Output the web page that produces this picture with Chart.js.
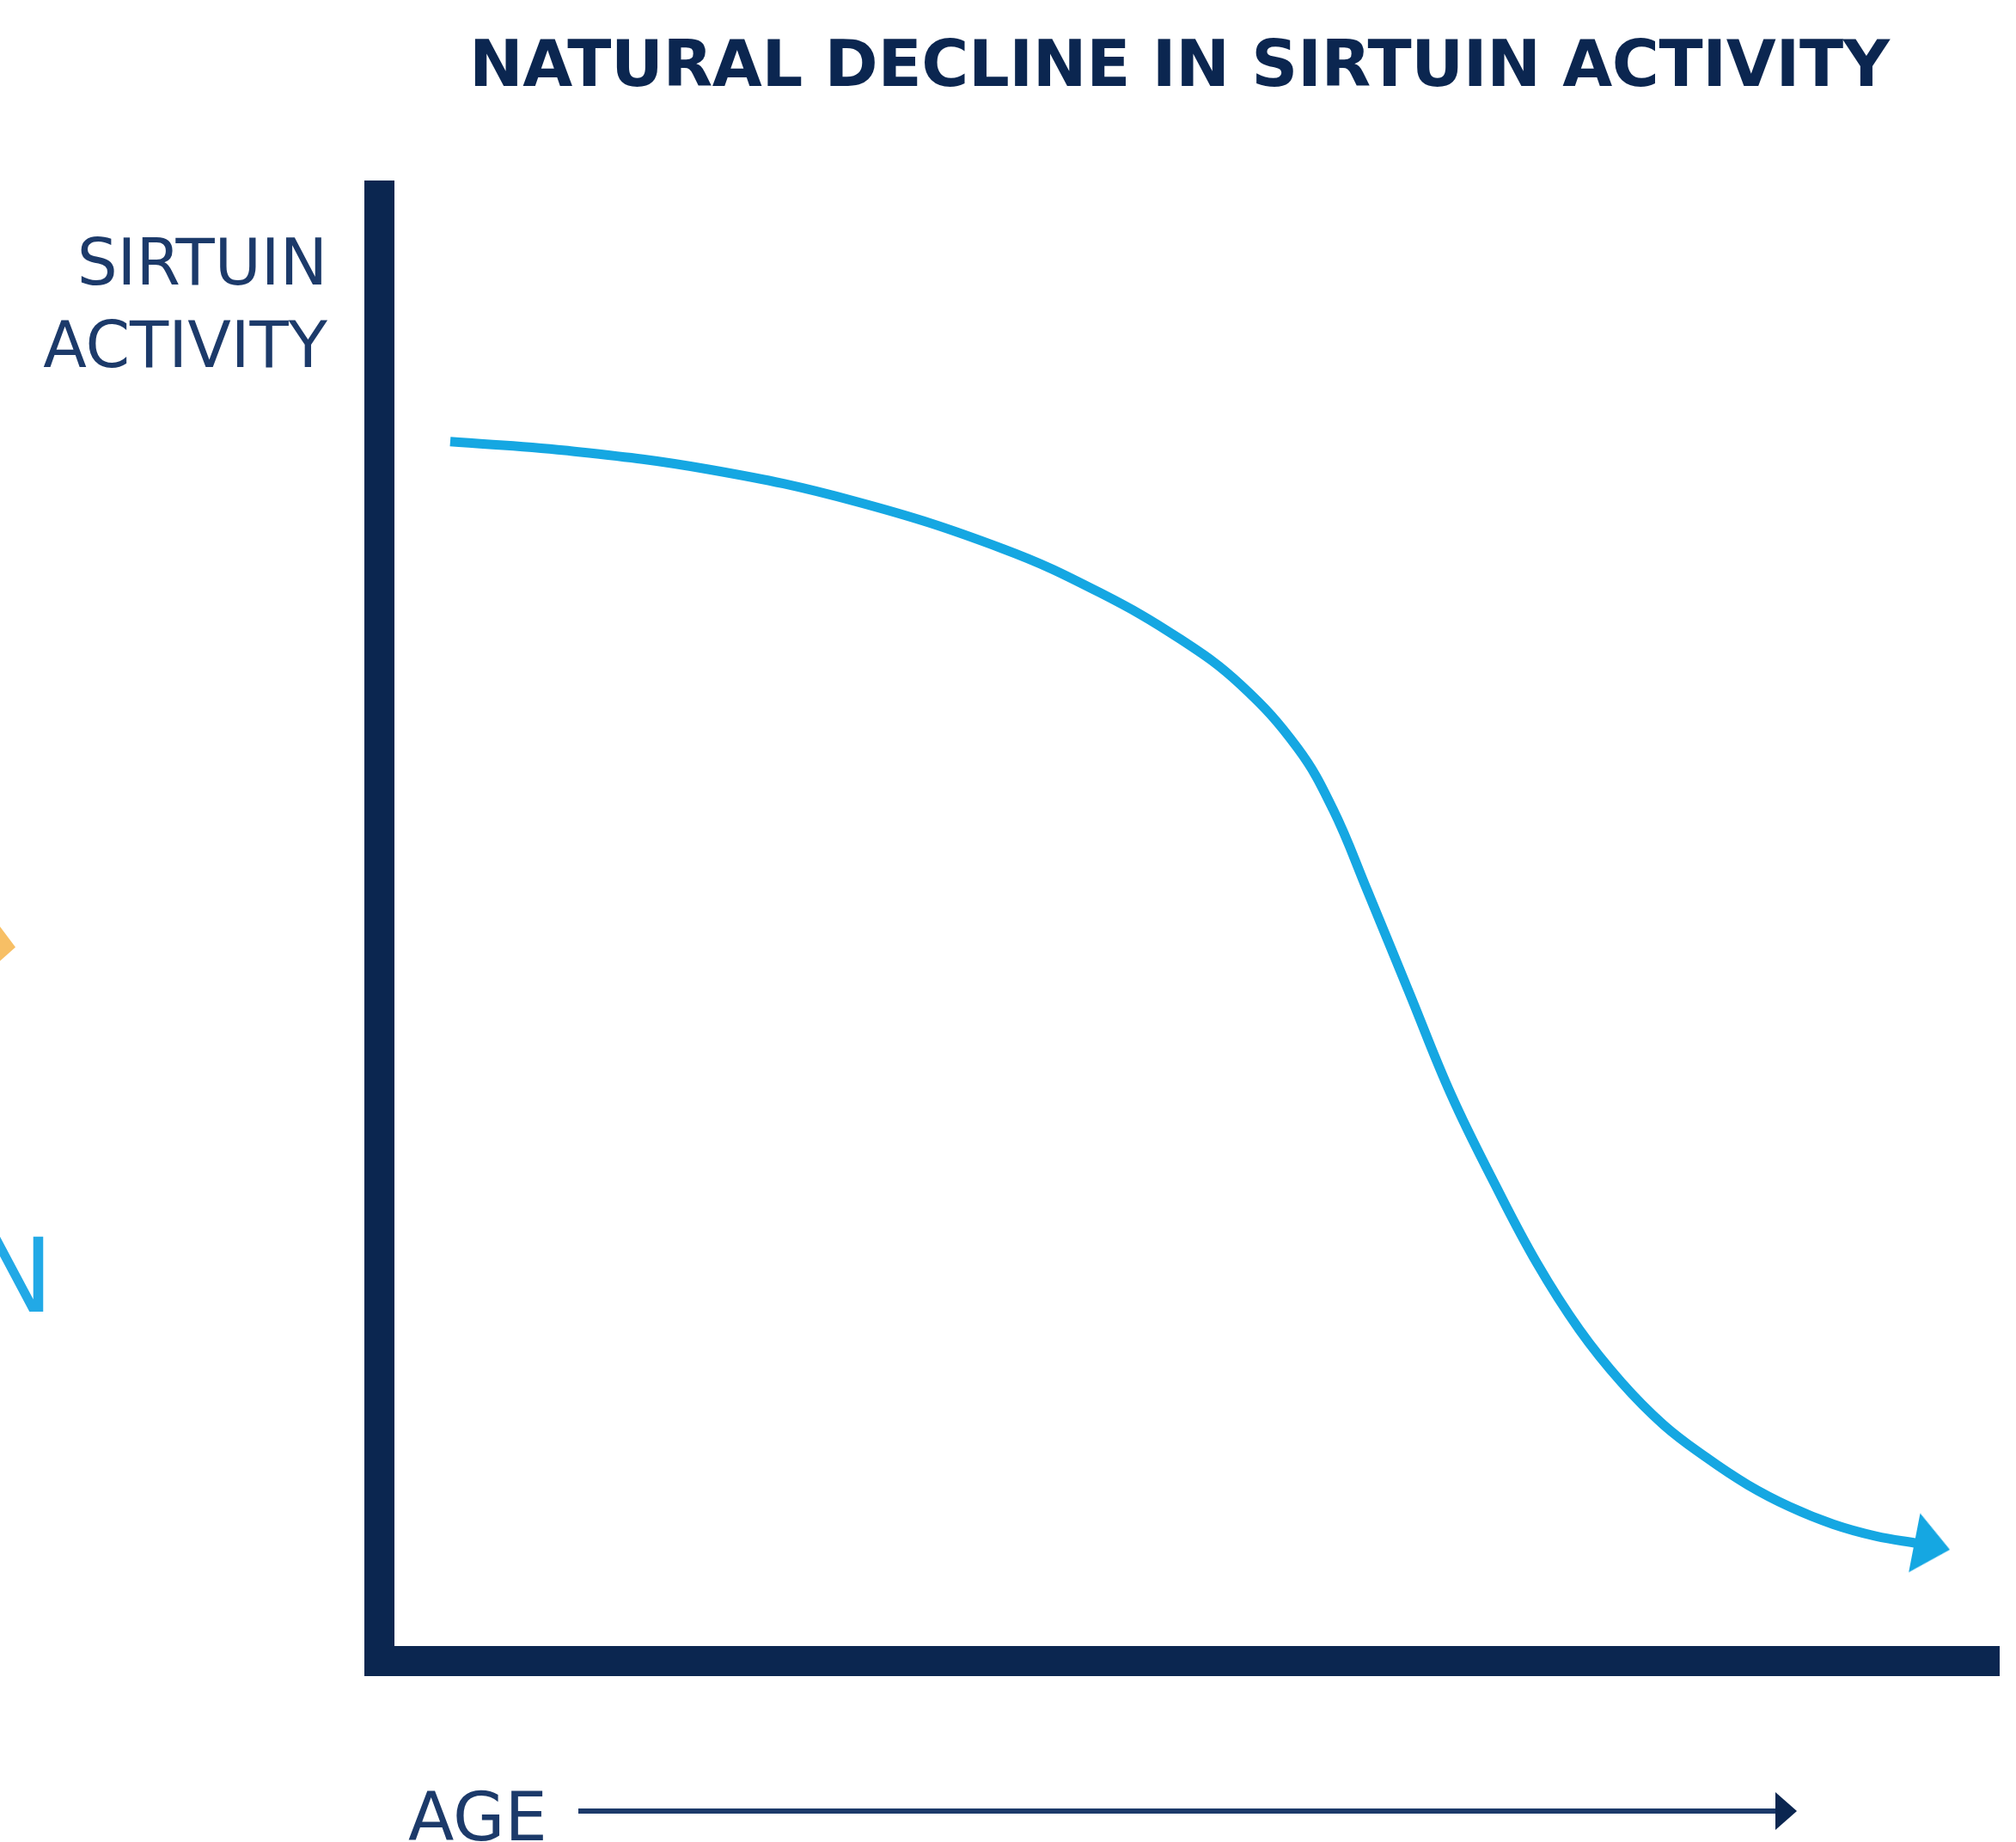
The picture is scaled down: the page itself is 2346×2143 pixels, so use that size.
<!DOCTYPE html>
<html>
<head>
<meta charset="utf-8">
<title>Natural decline in sirtuin activity</title>
<script src="https://cdn.jsdelivr.net/npm/chart.js@4.4.1/dist/chart.umd.min.js"></script>
<style>
  html, body { margin: 0; padding: 0; background: #fff; }
</style>
</head>
<body>
<canvas id="sirtuin-chart" width="2346" height="2143"></canvas>
<script>
// age, no units in the source graphic (0 = left axis, 100 = right edge)
const ageValues = [4.4, 11.5, 20.4, 29.5, 38.5, 44.5, 49.5, 53.2, 56.7, 58.9, 61.0, 63.6,
  66.2, 68.9, 71.5, 74.1, 76.7, 79.3, 81.9, 84.5, 87.1, 89.8, 92.4, 95.0]
// relative sirtuin activity
const activityValues = [83.2, 82.6, 81.3, 79.1, 75.9, 72.9, 69.7, 66.6, 62.3, 58.1, 52.6, 45.6,
  38.6, 32.5, 27.1, 22.6, 19.0, 16.1, 13.9, 12.0, 10.5, 9.3, 8.5, 8.0]

const chartTitle = 'NATURAL DECLINE IN SIRTUIN ACTIVITY'
const yAxisLines = ['SIRTUIN', 'ACTIVITY']
const xAxisLabel = 'AGE'

const NAVY = '#0b2650'
const TEXT_NAVY = '#1c3a6a'
const BLUE = '#15a7e2'

// arrow head for the end of the curve, used as the last point's style
function makeArrowHead(len, width) {
  const c = document.createElement('canvas')
  c.width = len * 2
  c.height = width
  const g = c.getContext('2d')
  g.fillStyle = BLUE
  g.beginPath()
  g.moveTo(len - 4, 0)
  g.lineTo(len * 2, width / 2)
  g.lineTo(len - 4, width)
  g.closePath()
  g.fill()
  return c
}
const arrowHead = makeArrowHead(38, 70)
const lastIndex = ageValues.length - 1

const points = ageValues.map((x, i) => ({ x: x, y: activityValues[i] }))

// texts and the little "age" arrow under the chart
const textPlugin = {
  id: 'sirtuinTexts',
  afterDraw(chart) {
    const ctx = chart.ctx
    ctx.save()

    ctx.fillStyle = NAVY
    ctx.font = 'bold 75px "DejaVu Sans"'
    ctx.textAlign = 'left'
    ctx.textBaseline = 'alphabetic'
    ctx.letterSpacing = '-0.4px'
    ctx.fillText(chartTitle, 546, 100)

    ctx.fillStyle = TEXT_NAVY
    ctx.font = '74px "DejaVu Sans"'
    ctx.letterSpacing = '0px'
    ctx.textAlign = 'right'
    ctx.fillText(yAxisLines[0], 381, 331)
    ctx.fillText(yAxisLines[1], 381, 427)

    ctx.textAlign = 'left'
    ctx.font = '78px "DejaVu Sans"'
    ctx.fillText(xAxisLabel, 475, 2141)

    ctx.strokeStyle = TEXT_NAVY
    ctx.lineWidth = 6
    ctx.beginPath()
    ctx.moveTo(673, 2107)
    ctx.lineTo(2072, 2107)
    ctx.stroke()
    ctx.fillStyle = NAVY
    ctx.beginPath()
    ctx.moveTo(2066, 2085)
    ctx.lineTo(2091, 2107)
    ctx.lineTo(2066, 2129)
    ctx.closePath()
    ctx.fill()

    // cut-off pieces of a neighbouring graphic at the left edge
    ctx.fillStyle = '#22a9e6'
    ctx.font = '120px "DejaVu Sans"'
    ctx.textAlign = 'right'
    ctx.fillText('N', 62, 1526)
    ctx.fillStyle = 'rgba(244, 170, 50, 0.75)'
    ctx.beginPath()
    ctx.moveTo(0, 1078)
    ctx.lineTo(18, 1102)
    ctx.lineTo(0, 1118)
    ctx.closePath()
    ctx.fill()

    ctx.restore()
  }
}

const config = {
  type: 'line',
  data: {
    datasets: [
      {
        label: 'Sirtuin activity',
        data: points,
        borderColor: BLUE,
        borderWidth: 11,
        tension: 0.4,
        pointStyle: (c) => (c.dataIndex === lastIndex ? arrowHead : 'circle'),
        pointRadius: (c) => (c.dataIndex === lastIndex ? 20 : 0),
        pointRotation: 11,
        pointBackgroundColor: BLUE,
        pointBorderWidth: 0,
      },
    ],
  },
  options: {
    responsive: false,
    animation: false,
    events: [],
    layout: {
      padding: { left: 433, right: 0, top: 227.5, bottom: 203 },
    },
    plugins: {
      legend: { display: false },
      title: { display: false },
      tooltip: { enabled: false },
    },
    scales: {
      x: {
        type: 'linear',
        min: 0,
        max: 100,
        grid: { display: false },
        ticks: { display: false },
        border: { display: true, color: NAVY, width: 35 },
      },
      y: {
        type: 'linear',
        min: 0,
        max: 100,
        grid: { display: false },
        ticks: { display: false },
        border: { display: true, color: NAVY, width: 35 },
      },
    },
  },
  plugins: [textPlugin],
}

const sirtuinCanvas = document.getElementById('sirtuin-chart')
window.sirtuinChart = new Chart(sirtuinCanvas, config)
</script>
</body>
</html>
